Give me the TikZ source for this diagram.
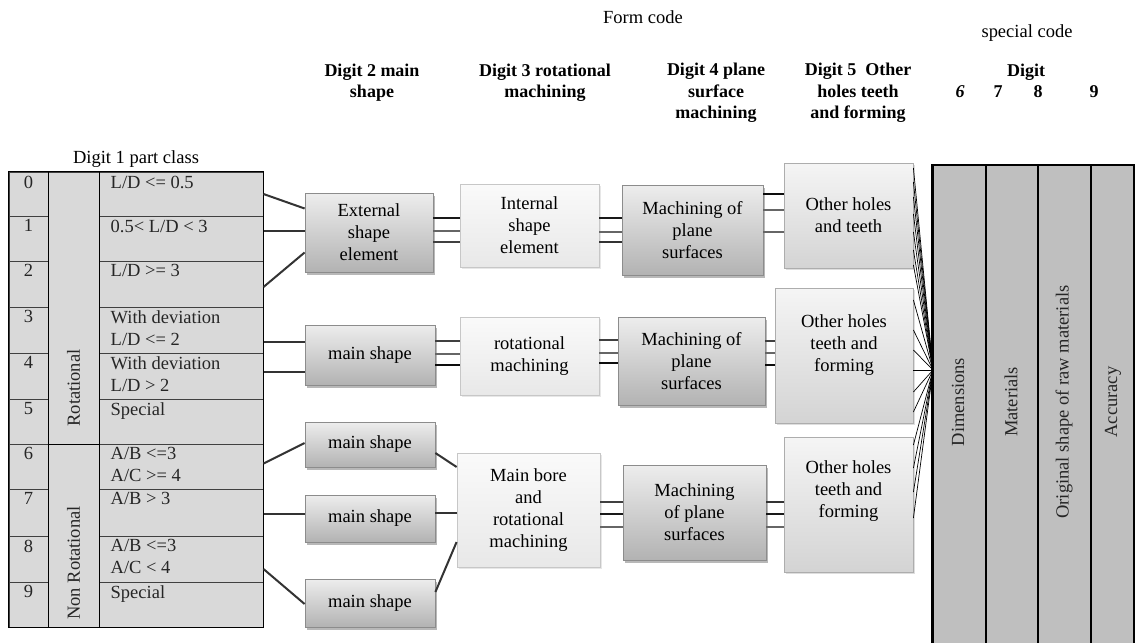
\documentclass[tikz,border=0pt]{standalone}
\usepackage{fontspec}
\setmainfont{Liberation Serif}
\usetikzlibrary{shadows,calc}
\begin{document}
\begin{tikzpicture}[x=1pt,y=-1pt,
  every node/.style={font=\fontsize{18.5}{22}\selectfont, inner sep=0pt},
  darkbox/.style={draw=black!45, line width=0.8pt, top color=black!7, bottom color=black!30, align=center,
    drop shadow={shadow xshift=2pt,shadow yshift=-3pt,fill=black!55}},
  lightbox/.style={draw=black!22, line width=0.8pt, top color=black!2, bottom color=black!9, align=center,
    drop shadow={shadow xshift=1.5pt,shadow yshift=-2pt,fill=black!18}},
  midbox/.style={draw=black!32, line width=0.8pt, top color=black!4, bottom color=black!17, align=center,
    drop shadow={shadow xshift=1.5pt,shadow yshift=-2pt,fill=black!25}},
  tcell/.style={draw=black!75, line width=1pt, fill=black!15, minimum width=164pt},
  ncell/.style={draw=black!75, line width=1pt, fill=black!15, minimum width=39pt},
  gcell/.style={draw=black!75, line width=1pt, fill=black!15, minimum width=51pt},
  ctext/.style={anchor=north west, inner xsep=12pt, inner ysep=4pt, align=left, text=black!85},
  ntext/.style={anchor=north, inner ysep=4pt, text=black!85},
  lbl/.style={anchor=north, align=center},
  rcol/.style={draw=black, line width=1.5pt, fill=black!25, minimum height=480pt},
  link/.style={line width=2pt, draw=black!80},
  fan/.style={line width=0.7pt, draw=black},
  hdr/.style={font=\fontsize{18}{21.5}\selectfont\bfseries, align=center},
]
\useasboundingbox (0,0) rectangle (1136,643);
\fill[white] (0,0) rectangle (1136,643);

% headers
\node (form) at (643,17) {Form code};
\node (spec) at (1027,33) {special code};
\node[hdr] (h2) at (372,82.5) {Digit 2 main\\shape};
\node[hdr] (h3) at (545,82.5) {Digit 3 rotational\\machining};
\node[hdr] (h4) at (716,93) {Digit 4 plane\\surface\\machining};
\node[hdr] (h5) at (858,93) {Digit 5\ \ Other\\holes teeth\\and forming};
\node[hdr] (h6) at (1026,72) {Digit};
\node[hdr] (d6) at (960,92) {\itshape 6};
\node[hdr] (d7) at (998,92) {7};
\node[hdr] (d8) at (1038,92) {8};
\node[hdr] (d9) at (1094,92) {9};

% left table
\node (t1) at (136,159) {Digit 1 part class};
\node[tcell, minimum height=44pt, label={[ctext]north west:L/D <= 0.5}] (r0) at (181,194) {};
\node[tcell, minimum height=45pt, label={[ctext]north west:0.5< L/D < 3}] (r1) at (181,238.5) {};
\node[tcell, minimum height=46pt, label={[ctext]north west:L/D >= 3}] (r2) at (181,284) {};
\node[tcell, minimum height=46pt, label={[ctext]north west:With deviation\\L/D <= 2}] (r3) at (181,330) {};
\node[tcell, minimum height=46pt, label={[ctext]north west:With deviation\\L/D > 2}] (r4) at (181,376) {};
\node[tcell, minimum height=45pt, label={[ctext]north west:Special}] (r5) at (181,421.5) {};
\node[tcell, minimum height=45pt, label={[ctext]north west:A/B <=3\\A/C >= 4}] (r6) at (181,466.5) {};
\node[tcell, minimum height=47pt, label={[ctext]north west:A/B > 3}] (r7) at (181,512.5) {};
\node[tcell, minimum height=46pt, label={[ctext]north west:A/B <=3\\A/C < 4}] (r8) at (181,559) {};
\node[tcell, minimum height=45pt, label={[ctext]north west:Special}] (r9) at (181,604.5) {};

\node[ncell, minimum height=44pt, label={[ntext]north:0}] (n0) at (28.5,194) {};
\node[ncell, minimum height=45pt, label={[ntext]north:1}] (n1) at (28.5,238.5) {};
\node[ncell, minimum height=46pt, label={[ntext]north:2}] (n2) at (28.5,284) {};
\node[ncell, minimum height=46pt, label={[ntext]north:3}] (n3) at (28.5,330) {};
\node[ncell, minimum height=46pt, label={[ntext]north:4}] (n4) at (28.5,376) {};
\node[ncell, minimum height=45pt, label={[ntext]north:5}] (n5) at (28.5,421.5) {};
\node[ncell, minimum height=45pt, label={[ntext]north:6}] (n6) at (28.5,466.5) {};
\node[ncell, minimum height=47pt, label={[ntext]north:7}] (n7) at (28.5,512.5) {};
\node[ncell, minimum height=46pt, label={[ntext]north:8}] (n8) at (28.5,559) {};
\node[ncell, minimum height=45pt, label={[ntext]north:9}] (n9) at (28.5,604.5) {};

\node[gcell, minimum height=272pt] (gR) at (73.5,308) {};
\node[gcell, minimum height=183pt] (gN) at (73.5,535.5) {};
\node[rotate=90, text=black!85] (gRt) at (73.5,388) {Rotational};
\node[rotate=90, text=black!85] (gNt) at (73.5,563) {Non Rotational};

\draw[line width=1.6pt] (n0.north west) rectangle (r9.south east);
\draw[line width=1.6pt] (n0.north east) -- (n9.south east);
\draw[line width=1.6pt] (gR.north east) -- (gN.south east);
\draw[line width=1.2pt] (gR.south west) -- (gR.south east);

% boxes
\node[darkbox, minimum width=128pt, minimum height=79pt] (ext) at (369,232.5) {External\\shape\\element};
\node[darkbox, minimum width=130pt, minimum height=60pt] (ms1) at (370,355) {main shape};
\node[darkbox, minimum width=130pt, minimum height=45pt] (ms2) at (370,444.5) {main shape};
\node[darkbox, minimum width=130pt, minimum height=47pt] (ms3) at (370,518.5) {main shape};
\node[darkbox, minimum width=130pt, minimum height=48pt] (ms4) at (370,603) {main shape};

\node[lightbox, minimum width=139pt, minimum height=83pt] (int) at (529.5,225.5) {Internal\\shape\\element};
\node[lightbox, minimum width=139pt, minimum height=78pt] (rot) at (529.5,356) {rotational\\machining};
\node[lightbox, minimum width=143pt, minimum height=114pt] (bore) at (528.5,510) {Main bore\\and\\rotational\\machining};

\node[darkbox, minimum width=141pt, minimum height=90pt] (mp1) at (692.5,230) {Machining of\\plane\\surfaces};
\node[darkbox, minimum width=147pt, minimum height=88pt] (mp2) at (691.5,361) {Machining of\\plane\\surfaces};
\node[darkbox, minimum width=143pt, minimum height=95pt] (mp3) at (694.5,512.5) {Machining\\of plane\\surfaces};

\node[midbox, minimum width=129pt, minimum height=105pt] (oh1) at (848.5,215.5) {Other holes\\and teeth};
\node[midbox, minimum width=138pt, minimum height=135pt,
  label={[lbl, yshift=-27pt]north:Other holes\\teeth and\\forming}] (oh2) at (844,355.5) {};
\node[midbox, minimum width=129pt, minimum height=135pt,
  label={[lbl, yshift=-24pt]north:Other holes\\teeth and\\forming}] (oh3) at (848.5,504.5) {};

% right table
\node[rcol, minimum width=53pt] (dim) at (959.5,405) {};
\node[rcol, minimum width=52pt] (mat) at (1012,405) {};
\node[rcol, minimum width=53pt] (orig) at (1064.5,405) {};
\node[rcol, minimum width=43pt] (acc) at (1112.5,405) {};
\draw[line width=2.5pt] (dim.north west) -- (dim.south west);
\node[rotate=90, text=black!85] (dimT) at (958,402) {Dimensions};
\node[rotate=90, text=black!85] (matT) at (1011,402) {Materials};
\node[rotate=90, text=black!85] (origT) at (1064,402) {Original shape of raw materials};
\node[rotate=90, text=black!85] (accT) at (1113,402) {Accuracy};

% table -> digit 2
\draw[link] (r0.east) -- ($(ext.west)+(0,-24)$);
\draw[link] (r1.east |- 0,231) -- (ext.west |- 0,231);
\draw[link] ($(r2.east)+(0,3)$) -- ($(ext.west)+(0,20)$);
\draw[link] (r3.east |- 0,342) -- (ms1.west |- 0,342);
\draw[link] (r4.east |- 0,372) -- (ms1.west |- 0,372);
\draw[link] ($(r6.east)+(0,-3)$) -- ($(ms2.west)+(0,-1.5)$);
\draw[link] (r7.east |- 0,514) -- (ms3.west |- 0,514);
\draw[link] ($(r8.east)+(0,10)$) -- ($(ms4.west)+(0,1)$);

% digit 2 -> main bore
\draw[link] ($(ms2.east)+(0,8.5)$) -- ($(bore.west)+(0,-43)$);
\draw[link] (ms3.east |- 0,513) -- (bore.west |- 0,513);
\draw[link] ($(ms4.east)+(0,-11)$) -- ($(bore.west)+(0,32)$);

% triple connectors
\foreach \y/\c in {218/black!90,231/black!60,242/black!75}
  \draw[link,draw=\c] (ext.east |- 0,\y) -- (int.west |- 0,\y);
\foreach \y/\c in {341/black!75,354/black!60,365/black!95}
  \draw[link,draw=\c] (ms1.east |- 0,\y) -- (rot.west |- 0,\y);
\foreach \y/\c in {218/black!90,232/black!60,242/black!80}
  \draw[link,draw=\c] (int.east |- 0,\y) -- (mp1.west |- 0,\y);
\foreach \y/\c in {340/black!75,353/black!60,363/black!95}
  \draw[link,draw=\c] (rot.east |- 0,\y) -- (mp2.west |- 0,\y);
\foreach \y/\c in {502/black!75,514/black!90,527/black!60}
  \draw[link,draw=\c] (bore.east |- 0,\y) -- (mp3.west |- 0,\y);
\foreach \y/\c in {194/black!95,210/black!60,232/black!60}
  \draw[link,draw=\c] (mp1.east |- 0,\y) -- (oh1.west |- 0,\y);
\foreach \y/\c in {341/black!75,353/black!60,365/black!95}
  \draw[link,draw=\c] (mp2.east |- 0,\y) -- (oh2.west |- 0,\y);
\foreach \y/\c in {502/black!80,514/black!90,527/black!60}
  \draw[link,draw=\c] (mp3.east |- 0,\y) -- (oh3.west |- 0,\y);

% fan into special code table
\coordinate (fanpt) at (933,370);
\foreach \y in {168,182,197,214,232,250,265}
  \draw[fan] (oh1.east |- 0,\y) -- (fanpt);
\foreach \y in {300,330,350,370,392,412}
  \draw[fan] (oh2.east |- 0,\y) -- (fanpt);
\foreach \y in {445,468,492,518}
  \draw[fan] (oh3.east |- 0,\y) -- (fanpt);
\end{tikzpicture}
\end{document}
